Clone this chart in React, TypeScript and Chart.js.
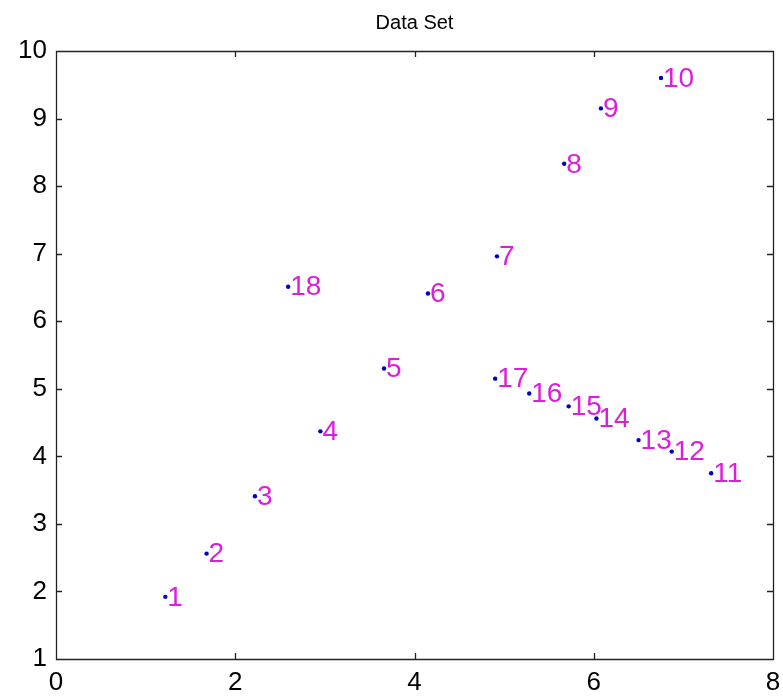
import React, { useEffect, useRef } from "react";
import { Chart, registerables } from "chart.js";

Chart.register(...registerables);

const pointNames = ["1","2","3","4","5","6","7","8","9","10","11","12","13","14","15","16","17","18"];
const xValues = [1.22, 1.68, 2.22, 2.95, 3.66, 4.15, 4.92, 5.67, 6.08, 6.75, 7.31, 6.87, 6.50, 6.03, 5.72, 5.28, 4.90, 2.59];
const yValues = [1.92, 2.56, 3.41, 4.37, 5.30, 6.41, 6.96, 8.33, 9.15, 9.60, 3.75, 4.07, 4.24, 4.56, 4.74, 4.93, 5.15, 6.51];
const xTicks = [0, 2, 4, 6, 8];
const yTicks = [1, 2, 3, 4, 5, 6, 7, 8, 9, 10];
const titleText = "Data Set";

const FONT = '"Liberation Sans", Arial, Helvetica, sans-serif';

const boxPlugin = {
  id: "matlabBox",
  afterDatasetsDraw(chart: any) {
    const { ctx, chartArea, scales } = chart;
    const { left, right, top, bottom } = chartArea;
    ctx.save();
    ctx.strokeStyle = "#222";
    ctx.lineWidth = 1.3;
    ctx.beginPath();
    ctx.rect(left + 0.5, top + 0.5, right - left, bottom - top);
    const t = 6;
    xTicks.forEach((v) => {
      const px = Math.round(scales.x.getPixelForValue(v)) + 0.5;
      ctx.moveTo(px, bottom);
      ctx.lineTo(px, bottom - t);
      ctx.moveTo(px, top);
      ctx.lineTo(px, top + t);
    });
    yTicks.forEach((v) => {
      const py = Math.round(scales.y.getPixelForValue(v)) + 0.5;
      ctx.moveTo(left, py);
      ctx.lineTo(left + t, py);
      ctx.moveTo(right, py);
      ctx.lineTo(right - t, py);
    });
    ctx.stroke();

    ctx.fillStyle = "#dc1edc";
    ctx.font = `28px ${FONT}`;
    ctx.textAlign = "left";
    ctx.textBaseline = "middle";
    pointNames.forEach((name, i) => {
      const px = scales.x.getPixelForValue(xValues[i]);
      const py = scales.y.getPixelForValue(yValues[i]);
      ctx.fillText(name, px + 2, py + 1);
    });
    ctx.restore();
  },
};

export default function App() {
  const ref = useRef<HTMLCanvasElement | null>(null);
  useEffect(() => {
    if (!ref.current) return;
    const chart = new Chart(ref.current, {
      type: "scatter",
      data: {
        datasets: [
          {
            data: xValues.map((x, i) => ({ x, y: yValues[i] })),
            backgroundColor: "#0000c0",
            borderColor: "#0000c0",
            pointRadius: 2.2,
            pointBorderWidth: 0,
          },
        ],
      },
      options: {
        animation: false,
        responsive: true,
        maintainAspectRatio: false,
        layout: { padding: { left: 0, right: 10, top: 0, bottom: 0 } },
        plugins: {
          legend: { display: false },
          tooltip: { enabled: false },
          title: {
            display: true,
            text: titleText,
            fullSize: false,
            color: "#000",
            font: { family: FONT, size: 20, weight: "normal" },
            padding: { top: 11, bottom: 16 },
          },
        },
        scales: {
          x: {
            type: "linear",
            min: 0,
            max: 8,
            afterBuildTicks: (s: any) => {
              s.ticks = xTicks.map((v) => ({ value: v }));
            },
            afterFit: (s: any) => {
              s.height = 37;
              s.paddingLeft = 0;
              s.paddingRight = 0;
            },
            grid: { display: false, drawTicks: false },
            border: { display: false },
            ticks: {
              color: "#000",
              padding: 8,
              maxRotation: 0,
              font: { family: FONT, size: 26 },
            },
          },
          y: {
            type: "linear",
            min: 1,
            max: 10,
            afterBuildTicks: (s: any) => {
              s.ticks = yTicks.map((v) => ({ value: v }));
            },
            afterFit: (s: any) => {
              s.width = 56;
              s.paddingTop = 0;
              s.paddingBottom = 0;
            },
            grid: { display: false, drawTicks: false },
            border: { display: false },
            ticks: {
              color: "#000",
              padding: 9,
              font: { family: FONT, size: 26 },
            },
          },
        },
      },
      plugins: [boxPlugin],
    });
    return () => chart.destroy();
  }, []);
  return (
    <div style={{ position: "fixed", left: 0, top: 0, width: 783, height: 696, background: "#fff" }}>
      <canvas ref={ref} />
    </div>
  );
}
